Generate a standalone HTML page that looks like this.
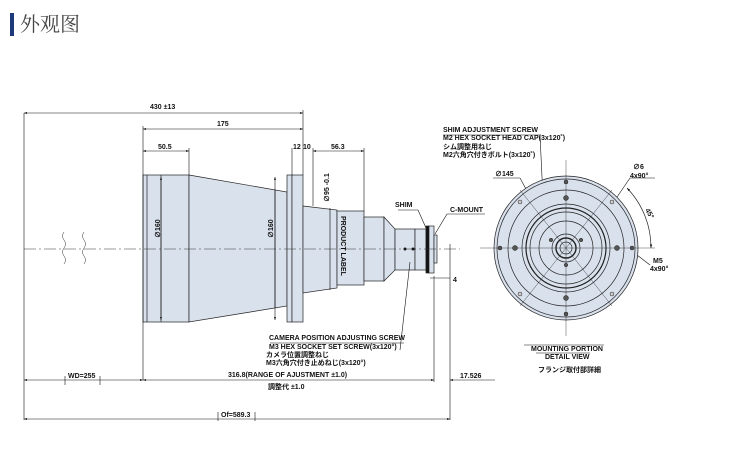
<!DOCTYPE html>
<html><head><meta charset="utf-8"><style>
html,body{margin:0;padding:0;background:#fff;width:750px;height:459px;overflow:hidden}
svg{display:block}
text{font-family:"Liberation Sans","Noto Sans CJK JP",sans-serif;font-weight:bold;font-size:7px;fill:#111}
.t{font-size:20px;font-weight:normal;fill:#444;font-family:"Noto Serif CJK SC","Noto Sans CJK SC",serif}
</style></head><body>
<svg width="750" height="459" viewBox="0 0 750 459" xmlns="http://www.w3.org/2000/svg">
<rect x="10" y="13" width="4" height="23" fill="#1f3a7a"/>
<text x="20" y="31" class="t">外观图</text>
<defs><marker id="a" viewBox="0 0 6 6" refX="6" refY="3" markerWidth="5" markerHeight="5" orient="auto-start-reverse"><path d="M0,1 L6,3 L0,5z" fill="#111"/></marker></defs>
<g stroke="#222" stroke-width="0.7" fill="#d9e1ed">
<!-- side body -->
<rect x="143" y="175" width="46" height="147"/>
<line x1="147" y1="175" x2="147" y2="322"/>
<line x1="161" y1="175" x2="161" y2="322"/>
<path d="M189,175 L287,192 L287,306 L189,322Z"/>
<line x1="275" y1="190" x2="275" y2="308"/>
<rect x="287" y="175" width="5" height="147"/>
<rect x="292" y="175" width="11" height="147"/>
<path d="M303,206 L337,210 L337,288 L303,293Z"/>
<line x1="330" y1="208" x2="330" y2="290"/>
<rect x="337" y="211" width="27" height="74"/>
<rect x="364" y="217" width="20" height="64"/>
<path d="M384,217 L395,229 L395,270 L384,281Z"/>
<rect x="395" y="229" width="20" height="41"/>
<rect x="415" y="229" width="11" height="41"/>
<rect x="426" y="226" width="3" height="47" fill="#111"/>
<rect x="429" y="226" width="5" height="47"/>
<rect x="434" y="235" width="3" height="28"/>
</g>
<circle cx="405" cy="249" r="1.5" fill="#111"/><circle cx="413" cy="249" r="1.5" fill="#111"/>
<!-- centerline -->
<line x1="24" y1="249" x2="460" y2="249" stroke="#333" stroke-width="0.5" stroke-dasharray="12,3,2,3"/>
<path d="M64,232 q-3,4 0,8 q3,4 0,8 q-3,4 0,8 q3,4 0,8 M84,232 q-3,4 0,8 q3,4 0,8 q-3,4 0,8 q3,4 0,8" stroke="#333" stroke-width="0.5" fill="none"/>
<!-- dims -->
<g stroke="#111" stroke-width="0.6" fill="none">
<line x1="24" y1="113" x2="24" y2="420"/>
<line x1="143" y1="126" x2="143" y2="380"/>
<line x1="303" y1="110" x2="303" y2="175"/>
<line x1="189" y1="148" x2="189" y2="175"/>
<line x1="292" y1="148" x2="292" y2="175"/>
<line x1="313" y1="148" x2="313" y2="206"/>
<line x1="364" y1="148" x2="364" y2="211"/>
<line x1="434" y1="276" x2="434" y2="382"/>
<line x1="450" y1="244" x2="450" y2="420"/>
<line x1="24" y1="113" x2="303" y2="113" marker-start="url(#a)" marker-end="url(#a)"/>
<line x1="143" y1="129" x2="303" y2="129" marker-start="url(#a)" marker-end="url(#a)"/>
<line x1="143" y1="151" x2="189" y2="151" marker-start="url(#a)" marker-end="url(#a)"/>
<line x1="313" y1="151" x2="364" y2="151" marker-start="url(#a)" marker-end="url(#a)"/>
<line x1="161" y1="177" x2="161" y2="320" marker-start="url(#a)" marker-end="url(#a)"/>
<line x1="275" y1="177" x2="275" y2="320" marker-start="url(#a)" marker-end="url(#a)"/>
<line x1="24" y1="380" x2="143" y2="380" marker-start="url(#a)" marker-end="url(#a)"/>
<line x1="143" y1="380" x2="434" y2="380" marker-start="url(#a)" marker-end="url(#a)"/>
<line x1="450" y1="380" x2="495" y2="380" marker-start="url(#a)"/>
<line x1="24" y1="419" x2="450" y2="419" marker-start="url(#a)" marker-end="url(#a)"/>
<line x1="430" y1="278" x2="450" y2="278"/>
<line x1="418" y1="210" x2="426" y2="228"/><line x1="398" y1="210" x2="418" y2="210"/>
<line x1="435" y1="234" x2="447" y2="214"/><line x1="447" y1="214" x2="485" y2="214"/>
<line x1="410" y1="262" x2="400" y2="350"/><line x1="270" y1="343" x2="404" y2="343"/>
<line x1="65" y1="376" x2="65" y2="385"/><line x1="100" y1="376" x2="100" y2="385"/>
<line x1="218" y1="412" x2="218" y2="421"/><line x1="255" y1="412" x2="255" y2="421"/>
<line x1="443" y1="135" x2="540" y2="135"/><line x1="540" y1="135" x2="545" y2="240"/>
<line x1="493" y1="178" x2="520" y2="178"/><line x1="520" y1="178" x2="540" y2="215"/>
<line x1="630" y1="178" x2="655" y2="178"/><line x1="630" y1="178" x2="615" y2="200"/>
<line x1="650" y1="265" x2="637" y2="255"/>
<line x1="524" y1="345" x2="604" y2="345"/><line x1="536" y1="353" x2="590" y2="353"/>
</g>
<!-- front view -->
<g stroke="#222" stroke-width="0.7" fill="none">
<circle cx="566" cy="248" r="72" fill="#d9e1ed"/>
<circle cx="566" cy="248" r="69"/>
<circle cx="566" cy="248" r="58"/>
<circle cx="566" cy="248" r="44"/>
<circle cx="566" cy="248" r="40" stroke-width="1.2"/>
<circle cx="566" cy="248" r="36"/>
<circle cx="566" cy="248" r="27"/>
<circle cx="566" cy="248" r="14"/>
<circle cx="566" cy="248" r="10" stroke-width="1.4"/>
<circle cx="566" cy="248" r="6"/>
<line x1="480" y1="248" x2="655" y2="248" stroke-width="0.4"/>
<line x1="566" y1="160" x2="566" y2="336" stroke-width="0.4"/>
<line x1="520" y1="190" x2="612" y2="306" stroke-width="0.4"/>
<line x1="612" y1="190" x2="520" y2="306" stroke-width="0.4"/>
<path d="M627,188 A86,86 0 0 1 651,248" marker-start="url(#a)" marker-end="url(#a)"/>
</g>
<g fill="#555" stroke="#222" stroke-width="0.5">
<circle cx="566" cy="182" r="2"/><circle cx="566" cy="314" r="2"/><circle cx="500" cy="248" r="2"/><circle cx="632" cy="248" r="2"/>
<circle cx="566" cy="198" r="2.5"/><circle cx="566" cy="298" r="2.5"/><circle cx="515" cy="248" r="2.5"/><circle cx="617" cy="248" r="2.5"/>
<circle cx="520" cy="202" r="2" fill="#ccc"/><circle cx="612" cy="202" r="2" fill="#ccc"/><circle cx="520" cy="294" r="2" fill="#ccc"/><circle cx="612" cy="294" r="2" fill="#ccc"/>
<circle cx="551" cy="240" r="1.8"/><circle cx="581" cy="240" r="1.8"/><circle cx="566" cy="265" r="1.8"/>
</g>
<!-- labels -->
<text x="150" y="109">430 ±13</text>
<text x="217" y="126">175</text>
<text x="158" y="149">50.5</text>
<text x="293" y="149">12</text><text x="303" y="149">10</text>
<text x="331" y="149">56.3</text>
<text transform="translate(160,238) rotate(-90)">∅160</text>
<text transform="translate(273,238) rotate(-90)">∅160</text>
<text transform="translate(329,202) rotate(-90)" font-size="6">∅95 -0.1</text>
<text transform="translate(341,216) rotate(90)">PRODUCT LABEL</text>
<text x="395" y="207">SHIM</text>
<text x="450" y="212">C-MOUNT</text>
<text x="453" y="282">4</text>
<text x="443" y="132">SHIM ADJUSTMENT SCREW</text>
<text x="443" y="140">M2 HEX SOCKET HEAD CAP(3x120˚)</text>
<text x="443" y="149">シム調整用ねじ</text>
<text x="443" y="157">M2六角穴付きボルト(3x120˚)</text>
<text x="495" y="176">∅145</text>
<text x="633" y="169">∅6</text><text x="630" y="178">4x90°</text>
<text transform="translate(645,210) rotate(60)">45°</text>
<text x="653" y="263">M5</text><text x="650" y="271">4x90°</text>
<text x="531" y="351">MOUNTING PORTION</text>
<text x="545" y="359">DETAIL VIEW</text>
<text x="538" y="372">フランジ取付部詳細</text>
<text x="269" y="340">CAMERA POSITION ADJUSTING SCREW</text>
<text x="269" y="349">M3 HEX SOCKET SET SCREW(3x120°)</text>
<text x="266" y="357">カメラ位置調整ねじ</text>
<text x="266" y="365">M3六角穴付き止めねじ(3x120°)</text>
<text x="68" y="378">WD=255</text>
<text x="228" y="377">316.8(RANGE OF AJUSTMENT ±1.0)</text>
<text x="268" y="389">調整代 ±1.0</text>
<text x="460" y="378">17.526</text>
<text x="221" y="417">Of=589.3</text>
</svg>
</body></html>
